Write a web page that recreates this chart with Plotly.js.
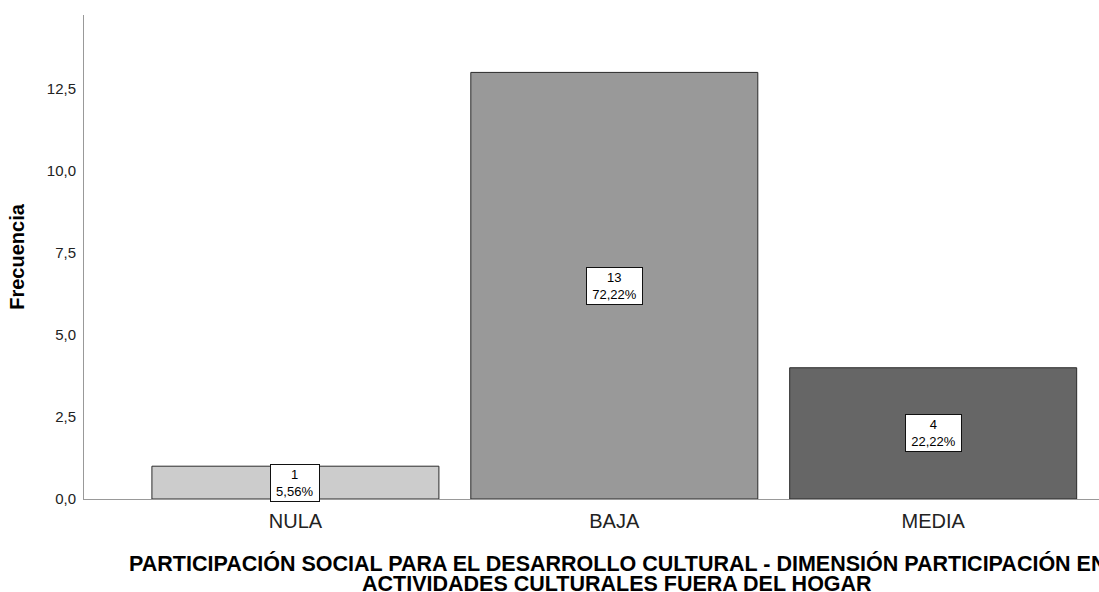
<!DOCTYPE html>
<html>
<head>
<meta charset="utf-8">
<script src="https://cdn.plot.ly/plotly-3.0.1.min.js"></script>
<style>html,body{margin:0;padding:0;background:#fff;}#chart{width:1099px;height:592px;}</style>
</head>
<body>
<div id="chart"></div>
<script>
const categories = ["NULA", "BAJA", "MEDIA"];
const counts = [1, 13, 4];
const percents = ["5,56%", "72,22%", "22,22%"];
const barColors = ["#cccccc", "#999999", "#666666"];
const yTickVals = [0, 2.5, 5, 7.5, 10, 12.5];
const yTitle = "Frecuencia";
const xTitleLine1 = "PARTICIPACIÓN SOCIAL PARA EL DESARROLLO CULTURAL - DIMENSIÓN PARTICIPACIÓN EN";
const xTitleLine2 = "ACTIVIDADES CULTURALES FUERA DEL HOGAR";

const font = "Arial, 'Liberation Sans', sans-serif";

const trace = {
  type: "bar",
  x: categories,
  y: counts,
  marker: { color: barColors, line: { color: "#2a2a2a", width: 1 } },
  hoverinfo: "skip"
};

const annotations = categories.map((c, i) => ({
  x: c, y: counts[i] / 2, xref: "x", yref: "y",
  text: counts[i] + "<br>" + percents[i],
  showarrow: false,
  width: percents[i].length * 7.5 + 6,
  bgcolor: "#ffffff", bordercolor: "#111111", borderwidth: 1, borderpad: 2,
  font: { family: font, size: 13, color: "#000" }
}));
annotations.push({
  xref: "paper", yref: "paper", x: (617 - 84) / 1015, y: -0.134, xanchor: "center", yanchor: "middle",
  text: "<b>" + xTitleLine1 + "</b>", showarrow: false,
  font: { family: font, size: 21.5, color: "#000" }
});
annotations.push({
  xref: "paper", yref: "paper", x: (617 - 84) / 1015, y: -0.1746, xanchor: "center", yanchor: "middle",
  text: "<b>" + xTitleLine2 + "</b>", showarrow: false,
  font: { family: font, size: 21.5, color: "#000" }
});

const layout = {
  width: 1099, height: 592,
  margin: { l: 84, r: 0, t: 15, b: 93 },
  paper_bgcolor: "#fff", plot_bgcolor: "#fff",
  bargap: 0.1,
  showlegend: false,
  separators: ",.",
  xaxis: {
    range: [-0.663, 2.52],
    showline: true, linecolor: "#999999", linewidth: 1,
    showgrid: false, zeroline: false,
    ticks: "outside", ticklen: 4, tickcolor: "rgba(0,0,0,0)",
    tickfont: { family: font, size: 20, color: "#222" }
  },
  yaxis: {
    range: [0, 14.75],
    showline: true, linecolor: "#999999", linewidth: 1,
    showgrid: false, zeroline: false,
    tickvals: yTickVals,
    tickformat: ".1f",
    ticks: "outside", ticklen: 4, tickcolor: "rgba(0,0,0,0)",
    tickfont: { family: font, size: 15, color: "#222" },
    title: { text: "<b>" + yTitle + "</b>", font: { family: font, size: 20, color: "#000" }, standoff: 16 }
  },
  annotations: annotations
};

Plotly.newPlot("chart", [trace], layout, { displayModeBar: false, staticPlot: true });
</script>
</body>
</html>
